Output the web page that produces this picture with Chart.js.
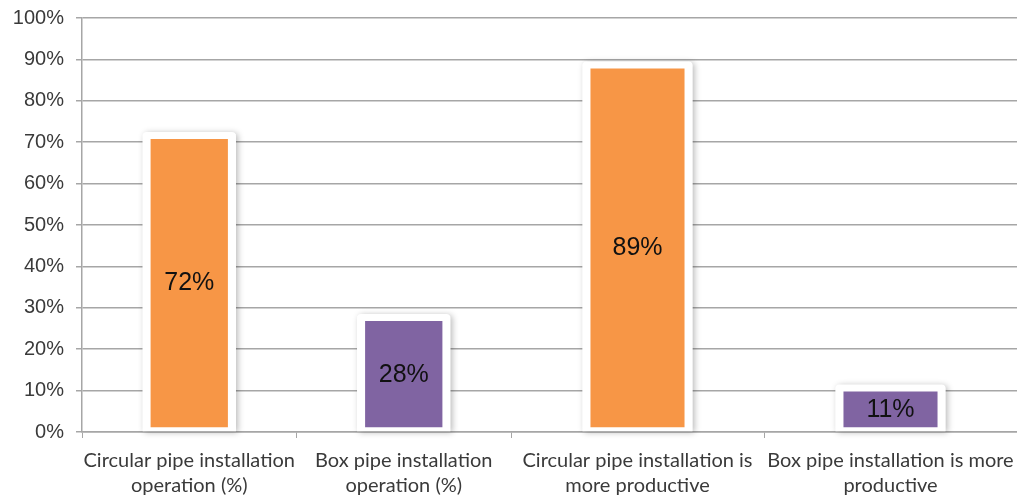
<!DOCTYPE html>
<html>
<head>
<meta charset="utf-8">
<script src="https://cdn.jsdelivr.net/npm/chart.js@4.4.1/dist/chart.umd.min.js"></script>
<style>
  html, body { margin: 0; padding: 0; background: #ffffff; }
  #wrap { position: relative; width: 1017px; height: 500px; }
  #left { position: absolute; left: 0; top: 0; }
  #right { position: absolute; left: 511px; top: 0; }
</style>
</head>
<body>
<div id="wrap">
  <canvas id="left" width="511" height="500"></canvas>
  <canvas id="right" width="506" height="500"></canvas>
</div>
<script>
// Share of respondents per installation type
const operationCategories = [
  ["Circular pipe installation", "operation (%)"],
  ["Box pipe installation", "operation (%)"]
];
const operationValues = [72, 28];

const productivityCategories = [
  ["Circular pipe installation is", "more productive"],
  ["Box pipe installation is more", "productive"]
];
const productivityValues = [89, 11];

const barColors = ["#F79646", "#8064A2"];
const yTicks = [0, 10, 20, 30, 40, 50, 60, 70, 80, 90, 100];

const gridGrey = "#a6a6a6";
const textGrey = "#3a3a3a";

// Keep label overflow from shrinking the plot area
function noOverflow(scale) {
  scale.paddingLeft = 0;
  scale.paddingRight = 0;
  scale.paddingTop = 0;
  scale.paddingBottom = 0;
}

// White raised frame with a soft drop shadow behind every bar
const barFrame = {
  id: "barFrame",
  beforeDatasetsDraw(chart) {
    const ctx = chart.ctx;
    chart.getDatasetMeta(0).data.forEach(el => {
      const p = el.getProps(["x", "y", "base", "width"], true);
      const left = p.x - p.width / 2;
      const top = p.y - 2;
      const h = p.base - top;
      ctx.save();
      ctx.shadowColor = "rgba(0,0,0,0.28)";
      ctx.shadowBlur = 6;
      ctx.shadowOffsetX = 2;
      ctx.shadowOffsetY = 1;
      ctx.fillStyle = "#ffffff";
      ctx.beginPath();
      ctx.roundRect(left, top, p.width, h, [4, 4, 0, 0]);
      ctx.fill();
      ctx.restore();
    });
  }
};

// Percentage written in the middle of each bar
const centreLabels = {
  id: "centreLabels",
  afterDatasetsDraw(chart) {
    const ctx = chart.ctx;
    const ds = chart.data.datasets[0];
    ctx.save();
    ctx.font = "25px 'Liberation Sans', Arial, sans-serif";
    ctx.fillStyle = "#111111";
    ctx.textAlign = "center";
    ctx.textBaseline = "middle";
    chart.getDatasetMeta(0).data.forEach((el, i) => {
      const p = el.getProps(["x", "y", "base"], true);
      ctx.fillText(ds.data[i] + "%", p.x, (p.y + p.base) / 2 + 1);
    });
    ctx.restore();
  }
};

function makeChart(canvasId, labels, values, showYLabels) {
  return new Chart(document.getElementById(canvasId), {
    type: "bar",
    data: {
      labels: labels,
      datasets: [{
        data: values,
        backgroundColor: barColors,
        borderColor: "#ffffff",
        borderWidth: { top: 5, left: 8, right: 8, bottom: 4 },
        borderSkipped: false,
        borderRadius: 0,
        categoryPercentage: 1.0,
        barPercentage: 0.435
      }]
    },
    options: {
      responsive: false,
      animation: false,
      devicePixelRatio: 1,
      layout: { padding: { top: 18, right: 0, left: 0, bottom: 0 } },
      plugins: {
        legend: { display: false },
        tooltip: { enabled: false },
        title: { display: false }
      },
      scales: {
        x: {
          offset: true,
          grid: {
            offset: true,
            drawOnChartArea: false,
            drawTicks: true,
            tickLength: 6,
            color: gridGrey
          },
          border: { display: true, color: gridGrey, width: 1.5 },
          ticks: {
            color: textGrey,
            font: { family: "Lato, 'Open Sans', sans-serif", size: 20, lineHeight: 1.25 },
            padding: 10,
            maxRotation: 0,
            autoSkip: false
          },
          afterFit(scale) { scale.height = 68; noOverflow(scale); }
        },
        y: {
          min: 0,
          max: 100,
          afterBuildTicks(scale) { scale.ticks = yTicks.map(v => ({ value: v })); },
          grid: {
            color: gridGrey,
            lineWidth: 1.5,
            drawTicks: showYLabels,
            tickLength: 6
          },
          border: { display: showYLabels, color: gridGrey, width: 1.5 },
          ticks: {
            display: showYLabels,
            color: textGrey,
            font: { family: "'Liberation Sans', Arial, sans-serif", size: 20 },
            padding: 12,
            callback: v => v + "%"
          },
          afterFit(scale) { scale.width = showYLabels ? 82 : 0; noOverflow(scale); }
        }
      }
    },
    plugins: [barFrame, centreLabels]
  });
}

makeChart("left", operationCategories, operationValues, true);
makeChart("right", productivityCategories, productivityValues, false);
</script>
</body>
</html>
